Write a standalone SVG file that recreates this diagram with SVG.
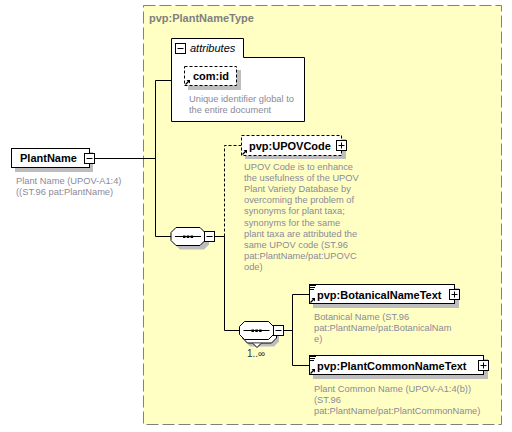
<svg xmlns="http://www.w3.org/2000/svg" xmlns:xlink="http://www.w3.org/1999/xlink" width="512" height="432" viewBox="0 0 512 432">
<style>
.bg{fill:#ffffc4;stroke:#808080;stroke-width:1;stroke-dasharray:12,4}
.box{fill:#fff;stroke:#000;stroke-width:1}
.dbox{fill:#fff;stroke:#000;stroke-width:1;stroke-dasharray:3,2}
.sh{fill:#bdbdbd}
.ln{fill:none;stroke:#000;stroke-width:1}
.dln{fill:none;stroke:#000;stroke-width:1;stroke-dasharray:3,2}
.name{font-family:"Liberation Sans",Arial,sans-serif;font-weight:bold;font-size:11px;fill:#000}
.desc{font-family:"Liberation Sans",Arial,sans-serif;font-size:9.3px;fill:#8a8a98}
.title{font-family:"Liberation Sans",Arial,sans-serif;font-weight:bold;font-size:11px;fill:#808080}
.ital{font-family:"Liberation Sans",Arial,sans-serif;font-style:italic;font-size:11px;fill:#000}
.occ{font-family:"Liberation Sans",Arial,sans-serif;font-size:10px;fill:#333}
</style>
<defs>
<g id="minus"><rect x="0.5" y="0.5" width="10" height="10" fill="#fff" stroke="#000"/><path d="M2.5 5.5h6" stroke="#000"/></g>
<g id="plus"><rect x="0.5" y="0.5" width="10" height="10" fill="#fff" stroke="#000"/><path d="M2.5 5.5h6M5.5 2.5v6" stroke="#000"/></g>
<g id="ref"><path d="M0.5 5.5L4 2" stroke="#000" stroke-width="1.2"/><path d="M1.5 1H5V4.5Z" fill="#000"/></g>
<g id="txt"><path d="M0 0.5h6M0 2.5h5M0 4.5h4" stroke="#000"/></g>
<polygon id="oct" points="5,0 29,0 34,5 34,13 29,18 5,18 0,13 0,5"/>
<g id="dots"><path d="M4 9h26" stroke="#000"/><rect x="12" y="8" width="2.5" height="2.5" fill="#000"/><rect x="15.8" y="8" width="2.5" height="2.5" fill="#000"/><rect x="19.6" y="8" width="2.5" height="2.5" fill="#000"/></g>
</defs>

<g id="type-bg">
<rect class="bg" x="143.5" y="5.5" width="358" height="419"/>
<text class="title" x="149" y="22">pvp:PlantNameType</text>
</g>

<g id="connectors">
<path class="ln" d="M95 158.5H155.5M155.5 80.5V236.5M155.5 80.5H171M155.5 236.5H171M214.5 236.5H224.5V330.5H239M283.5 330.5H292.5M292.5 294.5V365.5M292.5 294.5H309M292.5 365.5H309"/>
<path class="dln" d="M224.5 236.5V145.5H241"/>
</g>

<g id="PlantName">
<rect class="sh" x="15" y="152" width="78" height="20"/>
<rect class="box" x="11.5" y="148.5" width="78" height="19"/>
<text class="name" x="20" y="162">PlantName</text>
<use xlink:href="#minus" x="84" y="153"/>
<text class="desc" x="16" y="184">Plant Name (UPOV-A1:4)</text>
<text class="desc" x="16" y="195">((ST.96 pat:PlantName)</text>
</g>

<g id="attributes">
<path class="box" d="M171.5 121.5V38.5H243.5V57.5H304.5V121.5Z"/>
<use xlink:href="#minus" x="175" y="43"/>
<text class="ital" x="190" y="52">attributes</text>
</g>

<g id="com-id">
<rect class="sh" x="188" y="70" width="53" height="20"/>
<rect class="dbox" x="184.5" y="66.5" width="52" height="19"/>
<use xlink:href="#ref" x="185" y="79"/>
<text class="name" x="193" y="80">com:id</text>
<text class="desc" x="189" y="102">Unique identifier global to</text>
<text class="desc" x="189" y="113">the entire document</text>
</g>

<g id="sequence1">
<use xlink:href="#oct" class="sh" x="175" y="231.5"/>
<use xlink:href="#oct" class="box" x="171" y="227.5"/>
<use xlink:href="#dots" x="171" y="227.5"/>
<use xlink:href="#minus" x="204" y="231"/>
</g>

<g id="UPOVCode">
<rect class="sh" x="245" y="139" width="101" height="20"/>
<rect class="dbox" x="241.5" y="135.5" width="100" height="20"/>
<use xlink:href="#ref" x="242" y="149"/>
<text class="name" x="249" y="149.5">pvp:UPOVCode</text>
<use xlink:href="#plus" x="336" y="140"/>
<text class="desc" x="244" y="169.5">UPOV Code is to enhance</text>
<text class="desc" x="244" y="180.7">the usefulness of the UPOV</text>
<text class="desc" x="244" y="191.9">Plant Variety Database by</text>
<text class="desc" x="244" y="203.1">overcoming the problem of</text>
<text class="desc" x="244" y="214.3">synonyms for plant taxa;</text>
<text class="desc" x="244" y="225.5">synonyms for the same</text>
<text class="desc" x="244" y="236.7">plant taxa are attributed the</text>
<text class="desc" x="244" y="247.9">same UPOV code (ST.96</text>
<text class="desc" x="244" y="259.1">pat:PlantName/pat:UPOVC</text>
<text class="desc" x="244" y="270.3">ode)</text>
</g>

<g id="sequence2">
<use xlink:href="#oct" class="sh" x="245" y="328.5"/>
<use xlink:href="#oct" class="box" x="242.5" y="325"/>
<path d="M253 343.5L257 347.5L261 343.5" fill="#fff" stroke="#000"/>
<use xlink:href="#oct" class="box" x="239.5" y="321.5"/>
<use xlink:href="#dots" x="239.5" y="321.5"/>
<use xlink:href="#minus" x="273" y="325"/>
<text class="occ" x="247" y="357">1..∞</text>
</g>

<g id="BotanicalNameText">
<rect class="sh" x="313" y="288" width="146" height="20"/>
<rect class="box" x="309.5" y="284.5" width="145" height="19"/>
<use xlink:href="#txt" x="310" y="285"/>
<use xlink:href="#ref" x="310" y="297"/>
<text class="name" x="317" y="298.5">pvp:BotanicalNameText</text>
<use xlink:href="#plus" x="449" y="289"/>
<text class="desc" x="314" y="320">Botanical Name (ST.96</text>
<text class="desc" x="314" y="331">pat:PlantName/pat:BotanicalNam</text>
<text class="desc" x="314" y="342">e)</text>
</g>

<g id="PlantCommonNameText">
<rect class="sh" x="313" y="359" width="175" height="20"/>
<rect class="box" x="309.5" y="355.5" width="174" height="19"/>
<use xlink:href="#txt" x="310" y="356"/>
<use xlink:href="#ref" x="310" y="368"/>
<text class="name" x="317" y="369.5">pvp:PlantCommonNameText</text>
<use xlink:href="#plus" x="478" y="360"/>
<text class="desc" x="314" y="392">Plant Common Name (UPOV-A1:4(b))</text>
<text class="desc" x="314" y="403">(ST.96</text>
<text class="desc" x="314" y="414">pat:PlantName/pat:PlantCommonName)</text>
</g>
</svg>
